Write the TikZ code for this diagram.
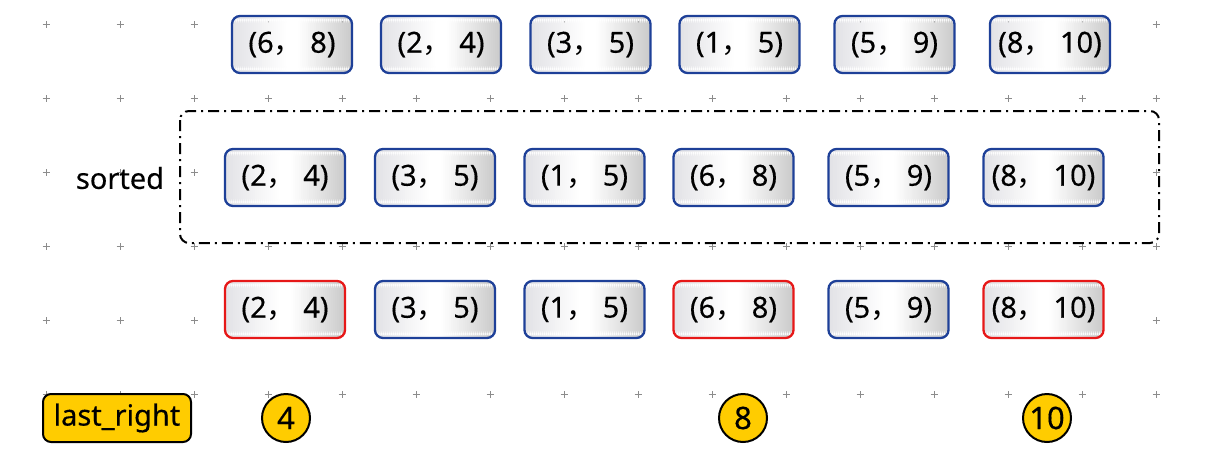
\documentclass[tikz,border=0pt]{standalone}
\usepackage{fontspec}
\setmainfont{Noto Sans}[FakeBold=0.35]
\newfontfamily\cjk{Noto Sans CJK SC}
\newcommand{\pr}[2]{(#1{\cjk ，} #2)}
\definecolor{boxblue}{RGB}{30,64,152}
\definecolor{boxred}{RGB}{230,24,24}
\definecolor{gold}{RGB}{255,204,0}
\definecolor{gridgray}{RGB}{140,140,140}
\definecolor{gradleft}{RGB}{226,226,230}
\definecolor{gradright}{RGB}{202,202,202}
\tikzset{
  pairbox/.style={draw=boxblue, line width=2.3pt, rounded corners=8pt,
    minimum width=120pt, minimum height=57pt, inner sep=0pt,
    path picture={
      \foreach \k in {0,...,59}{
        \pgfmathtruncatemacro{\gpa}{min(100,((\k+0.5)/60)/0.45*100)}
        \pgfmathtruncatemacro{\gpb}{max(0,(((\k+0.5)/60)-0.55)/0.45*100)}
        \fill[gradright!\gpb!white!\gpa!gradleft]
          ([xshift={\k*2}]path picture bounding box.south west) rectangle
          ([xshift={\k*2+2.4}]path picture bounding box.north west);
      }
    },
    font=\fontsize{29}{32}\selectfont},
  redbox/.style={pairbox, draw=boxred},
  goldcirc/.style={circle, draw=black, line width=2pt, fill=gold,
    minimum size=48pt, inner sep=0pt, font=\fontsize{31}{33}\selectfont},
  goldbox/.style={draw=black, line width=2pt, fill=gold, rounded corners=8pt,
    minimum width=148pt, minimum height=48pt, inner sep=0pt,
    font=\fontsize{29}{31}\selectfont},
  plainlabel/.style={inner sep=0pt, font=\fontsize{29}{31}\selectfont},
  groupframe/.style={draw=black, line width=2pt, rounded corners=9pt,
    dash pattern=on 11pt off 5pt on 2pt off 5pt},
  gridmark/.style={draw=gridgray, line width=1pt}
}
\begin{document}
\begin{tikzpicture}[x=1pt,y=1pt]
\useasboundingbox (0,0) rectangle (1206,-458);
% grid marks
\foreach \i in {0,...,15}{
  \foreach \j in {0,...,5}{
    \draw[gridmark] ({46+74*\i-3.5},{-24-74*\j}) -- ({46+74*\i+3.5},{-24-74*\j})
                    ({46+74*\i},{-24-74*\j-3.5}) -- ({46+74*\i},{-24-74*\j+3.5});
  }
}
% group frame
\draw[groupframe] (180,-111) rectangle (1159,-243);
\node[plainlabel] (sorted) at (120,-178) {sorted};
% top row
\node[pairbox] (t1) at (292,-44.5) {\pr{6}{8}};
\node[pairbox] (t2) at (441,-44.5) {\pr{2}{4}};
\node[pairbox] (t3) at (590.5,-44.5) {\pr{3}{5}};
\node[pairbox] (t4) at (739.5,-44.5) {\pr{1}{5}};
\node[pairbox] (t5) at (894.5,-44.5) {\pr{5}{9}};
\node[pairbox] (t6) at (1050,-44.5) {\pr{8}{10}};
% sorted row
\node[pairbox] (s1) at (285,-177.5) {\pr{2}{4}};
\node[pairbox] (s2) at (435,-177.5) {\pr{3}{5}};
\node[pairbox] (s3) at (584.5,-177.5) {\pr{1}{5}};
\node[pairbox] (s4) at (733.5,-177.5) {\pr{6}{8}};
\node[pairbox] (s5) at (888.5,-177.5) {\pr{5}{9}};
\node[pairbox] (s6) at (1043.5,-177.5) {\pr{8}{10}};
% bottom row
\node[redbox] (b1) at (285,-309.5) {\pr{2}{4}};
\node[pairbox] (b2) at (435,-309.5) {\pr{3}{5}};
\node[pairbox] (b3) at (584.5,-309.5) {\pr{1}{5}};
\node[redbox] (b4) at (733.5,-309.5) {\pr{6}{8}};
\node[pairbox] (b5) at (888.5,-309.5) {\pr{5}{9}};
\node[redbox] (b6) at (1043.5,-309.5) {\pr{8}{10}};
% last_right row
\node[goldbox] (lr) at (117,-418) {last\_right};
\node[goldcirc] (c1) at (286,-418) {4};
\node[goldcirc] (c2) at (743,-418) {8};
\node[goldcirc] (c3) at (1047,-418) {10};
\end{tikzpicture}
\end{document}
